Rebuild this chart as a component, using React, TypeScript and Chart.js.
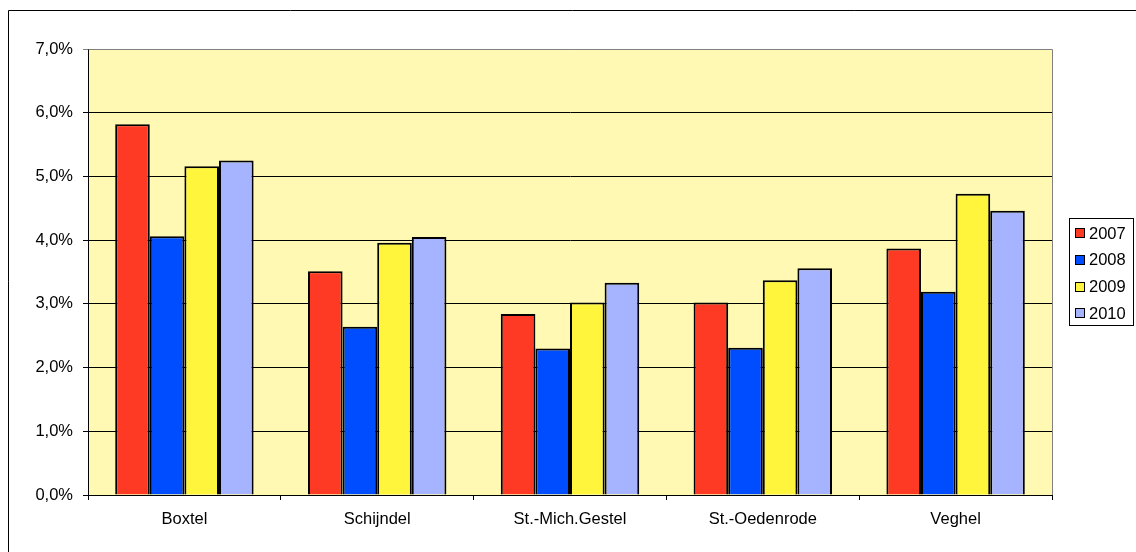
import React, { useEffect, useRef } from "react";
import { Chart, registerables } from "chart.js";

Chart.register(...registerables);

const categories = ["Boxtel", "Schijndel", "St.-Mich.Gestel", "St.-Oedenrode", "Veghel"];
const seriesLabels = ["2007", "2008", "2009", "2010"];
const values2007 = [5.82, 3.51, 2.84, 3.02, 3.87];
const values2008 = [4.06, 2.64, 2.30, 2.31, 3.19];
const values2009 = [5.16, 3.96, 3.02, 3.37, 4.73];
const values2010 = [5.25, 4.05, 3.33, 3.56, 4.46];
const seriesColors = ["#FF3A24", "#004CFF", "#FFF53C", "#A6B4FF"];
const yMin = 0;
const yMax = 7;
const yStep = 1;

const FONT = "'Liberation Sans', Arial, sans-serif";
const FSIZE = 16.5;

const decorPlugin = {
  id: "decor",
  beforeDraw(chart: any) {
    const { ctx, chartArea: a } = chart;
    ctx.save();
    ctx.fillStyle = "#FFFFFF";
    ctx.fillRect(0, 0, chart.width, chart.height);
    ctx.fillStyle = "#FFF9B4";
    ctx.fillRect(a.left, a.top, a.right - a.left, a.bottom - a.top);
    // outer frame
    ctx.strokeStyle = "#000";
    ctx.lineWidth = 1;
    ctx.beginPath();
    ctx.moveTo(8.5, chart.height);
    ctx.lineTo(8.5, 10.5);
    ctx.lineTo(chart.width, 10.5);
    ctx.stroke();
    ctx.restore();
  },
  afterDatasetsDraw(chart: any) {
    const { ctx, chartArea: a } = chart;
    ctx.save();
    ctx.strokeStyle = "#808080";
    ctx.lineWidth = 1;
    ctx.beginPath();
    ctx.moveTo(Math.round(a.left) + 0.5, Math.round(a.top) + 0.5);
    ctx.lineTo(Math.round(a.right) + 0.5, Math.round(a.top) + 0.5);
    ctx.lineTo(Math.round(a.right) + 0.5, Math.round(a.bottom));
    ctx.stroke();
    ctx.restore();
  },
  afterDraw(chart: any) {
    const { ctx } = chart;
    const ds = chart.data.datasets;
    const bx = 1069.5, by = 218.5, bw = 64, bh = 107;
    ctx.save();
    ctx.fillStyle = "#FFFFFF";
    ctx.fillRect(bx, by, bw, bh);
    ctx.strokeStyle = "#000";
    ctx.lineWidth = 1;
    ctx.strokeRect(bx, by, bw, bh);
    ctx.font = `${FSIZE}px ${FONT}`;
    ctx.textBaseline = "middle";
    ctx.textAlign = "left";
    ds.forEach((d: any, i: number) => {
      const cy = 233 + i * 26.8;
      ctx.fillStyle = d.backgroundColor;
      ctx.fillRect(1075.5, Math.round(cy - 5) + 0.5, 9, 9);
      ctx.strokeStyle = "#000";
      ctx.strokeRect(1075.5, Math.round(cy - 5) + 0.5, 9, 9);
      ctx.fillStyle = "#000";
      ctx.fillText(d.label, 1089, cy + 1);
    });
    ctx.restore();
  },
};

export default function App() {
  const ref = useRef<HTMLCanvasElement | null>(null);
  useEffect(() => {
    if (!ref.current) return;
    const allValues = [values2007, values2008, values2009, values2010];
    const chart = new Chart(ref.current, {
      type: "bar",
      data: {
        labels: categories,
        datasets: seriesLabels.map((lab, i) => ({
          label: lab,
          data: allValues[i],
          backgroundColor: seriesColors[i],
          borderColor: "#000000",
          borderWidth: 2,
          categoryPercentage: 0.718,
          barPercentage: 1,
        })),
      },
      options: {
        responsive: false,
        animation: false,
        devicePixelRatio: 1,
        layout: { padding: { left: 8, right: 84, top: 49, bottom: 0 } },
        plugins: {
          legend: { display: false },
          tooltip: { enabled: false },
        },
        scales: {
          x: {
            grid: {
              offset: true,
              drawOnChartArea: false,
              drawTicks: true,
              tickLength: 5,
              color: "#000",
            },
            border: { display: true, color: "#000", width: 1 },
            ticks: {
              color: "#000",
              font: { family: FONT, size: FSIZE },
              padding: 10,
              maxRotation: 0,
            },
            afterFit(scale: any) {
              scale.height = 57;
            },
          },
          y: {
            min: yMin,
            max: yMax,
            grid: {
              color: (c: any) => (c.tick && c.tick.value === yMax ? "#808080" : "#000"),
              lineWidth: 1,
              tickLength: 5,
              drawTicks: true,
            },
            border: { display: true, color: "#000", width: 1 },
            ticks: {
              stepSize: yStep,
              color: "#000",
              padding: 10,
              font: { family: FONT, size: FSIZE },
              callback: (v: any) => Number(v).toFixed(1).replace(".", ",") + "%",
            },
            afterFit(scale: any) {
              scale.width = 80;
            },
          },
        },
      },
      plugins: [decorPlugin],
    });
    return () => chart.destroy();
  }, []);
  return (
    <div style={{ position: "absolute", left: 0, top: 0, width: 1136, height: 552 }}>
      <canvas ref={ref} width={1136} height={552} style={{ display: "block" }} />
    </div>
  );
}
